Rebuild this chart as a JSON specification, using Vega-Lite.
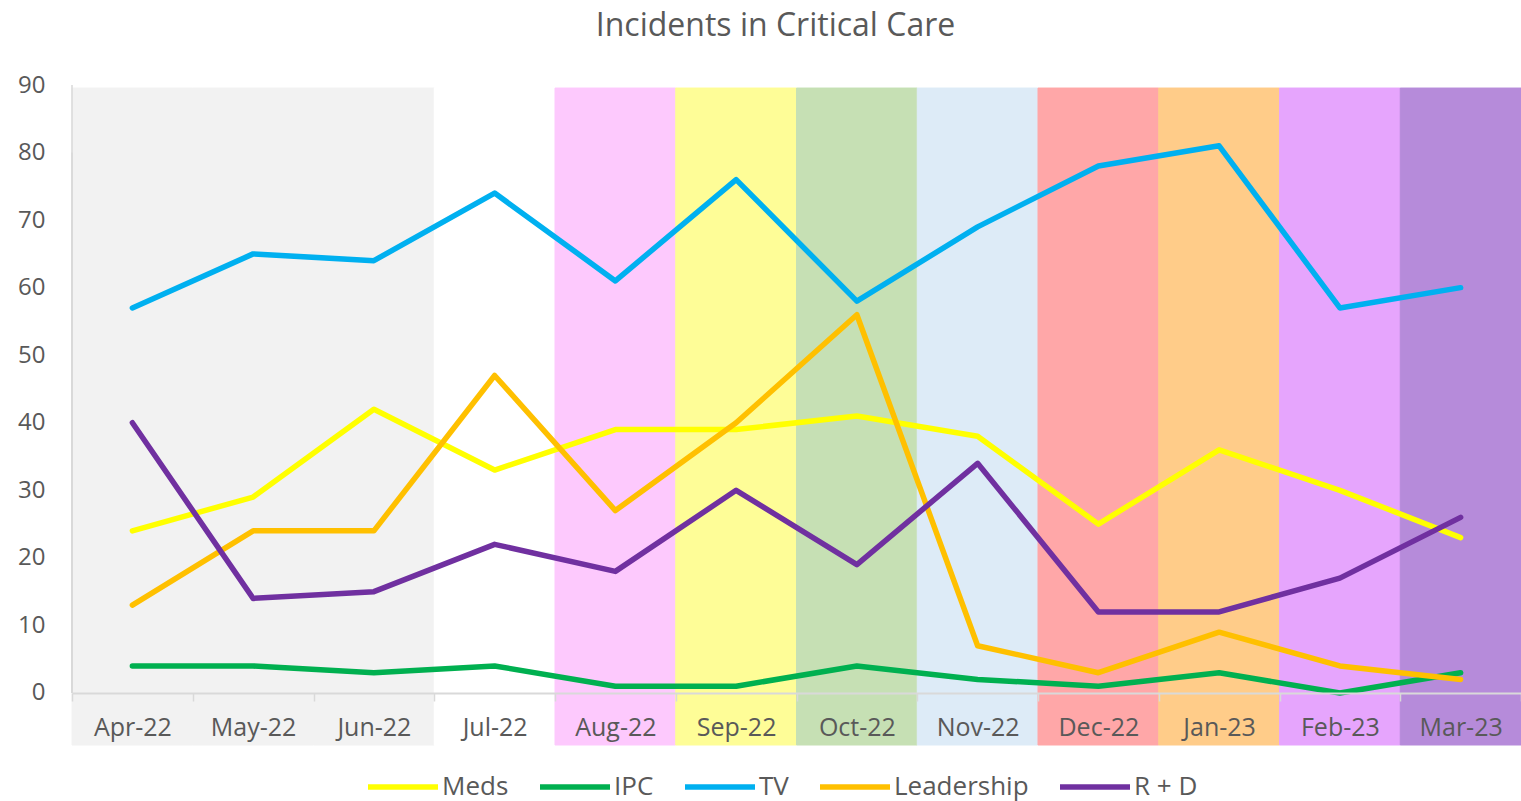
{
  "$schema": "https://vega.github.io/schema/vega-lite/v6.json",
  "width": 1449,
  "height": 660,
  "autosize": {"type": "none"},
  "padding": {"left": 72, "top": 85, "right": 0, "bottom": 56},
  "background": "#ffffff",
  "config": {
    "font": "Open Sans",
    "view": {"stroke": null}
  },
  "title": {
    "text": "Incidents in Critical Care",
    "fontSize": 32,
    "fontWeight": "normal",
    "color": "#595959",
    "anchor": "middle",
    "dx": -21,
    "offset": 30
  },
  "resolve": {"scale": {"stroke": "independent"}},
  "datasets": {
    "bands": [
      {"month": "Apr-22"}, {"month": "May-22"}, {"month": "Jun-22"}, {"month": "Jul-22"},
      {"month": "Aug-22"}, {"month": "Sep-22"}, {"month": "Oct-22"}, {"month": "Nov-22"},
      {"month": "Dec-22"}, {"month": "Jan-23"}, {"month": "Feb-23"}, {"month": "Mar-23"}
    ],
    "grid": [
      {"v": 10}, {"v": 20}, {"v": 30}, {"v": 40}, {"v": 50}, {"v": 60}, {"v": 70}, {"v": 80}, {"v": 90}
    ],
    "vals": [
      {"month": "Apr-22", "series": "Meds", "value": 24},
      {"month": "May-22", "series": "Meds", "value": 29},
      {"month": "Jun-22", "series": "Meds", "value": 42},
      {"month": "Jul-22", "series": "Meds", "value": 33},
      {"month": "Aug-22", "series": "Meds", "value": 39},
      {"month": "Sep-22", "series": "Meds", "value": 39},
      {"month": "Oct-22", "series": "Meds", "value": 41},
      {"month": "Nov-22", "series": "Meds", "value": 38},
      {"month": "Dec-22", "series": "Meds", "value": 25},
      {"month": "Jan-23", "series": "Meds", "value": 36},
      {"month": "Feb-23", "series": "Meds", "value": 30},
      {"month": "Mar-23", "series": "Meds", "value": 23},
      {"month": "Apr-22", "series": "IPC", "value": 4},
      {"month": "May-22", "series": "IPC", "value": 4},
      {"month": "Jun-22", "series": "IPC", "value": 3},
      {"month": "Jul-22", "series": "IPC", "value": 4},
      {"month": "Aug-22", "series": "IPC", "value": 1},
      {"month": "Sep-22", "series": "IPC", "value": 1},
      {"month": "Oct-22", "series": "IPC", "value": 4},
      {"month": "Nov-22", "series": "IPC", "value": 2},
      {"month": "Dec-22", "series": "IPC", "value": 1},
      {"month": "Jan-23", "series": "IPC", "value": 3},
      {"month": "Feb-23", "series": "IPC", "value": 0},
      {"month": "Mar-23", "series": "IPC", "value": 3},
      {"month": "Apr-22", "series": "TV", "value": 57},
      {"month": "May-22", "series": "TV", "value": 65},
      {"month": "Jun-22", "series": "TV", "value": 64},
      {"month": "Jul-22", "series": "TV", "value": 74},
      {"month": "Aug-22", "series": "TV", "value": 61},
      {"month": "Sep-22", "series": "TV", "value": 76},
      {"month": "Oct-22", "series": "TV", "value": 58},
      {"month": "Nov-22", "series": "TV", "value": 69},
      {"month": "Dec-22", "series": "TV", "value": 78},
      {"month": "Jan-23", "series": "TV", "value": 81},
      {"month": "Feb-23", "series": "TV", "value": 57},
      {"month": "Mar-23", "series": "TV", "value": 60},
      {"month": "Apr-22", "series": "Leadership", "value": 13},
      {"month": "May-22", "series": "Leadership", "value": 24},
      {"month": "Jun-22", "series": "Leadership", "value": 24},
      {"month": "Jul-22", "series": "Leadership", "value": 47},
      {"month": "Aug-22", "series": "Leadership", "value": 27},
      {"month": "Sep-22", "series": "Leadership", "value": 40},
      {"month": "Oct-22", "series": "Leadership", "value": 56},
      {"month": "Nov-22", "series": "Leadership", "value": 7},
      {"month": "Dec-22", "series": "Leadership", "value": 3},
      {"month": "Jan-23", "series": "Leadership", "value": 9},
      {"month": "Feb-23", "series": "Leadership", "value": 4},
      {"month": "Mar-23", "series": "Leadership", "value": 2},
      {"month": "Apr-22", "series": "R + D", "value": 40},
      {"month": "May-22", "series": "R + D", "value": 14},
      {"month": "Jun-22", "series": "R + D", "value": 15},
      {"month": "Jul-22", "series": "R + D", "value": 22},
      {"month": "Aug-22", "series": "R + D", "value": 18},
      {"month": "Sep-22", "series": "R + D", "value": 30},
      {"month": "Oct-22", "series": "R + D", "value": 19},
      {"month": "Nov-22", "series": "R + D", "value": 34},
      {"month": "Dec-22", "series": "R + D", "value": 12},
      {"month": "Jan-23", "series": "R + D", "value": 12},
      {"month": "Feb-23", "series": "R + D", "value": 17},
      {"month": "Mar-23", "series": "R + D", "value": 26}
    ]
  },
  "encoding": {
    "x": {
      "field": "month",
      "type": "nominal",
      "scale": {
        "domain": ["Apr-22", "May-22", "Jun-22", "Jul-22", "Aug-22", "Sep-22", "Oct-22", "Nov-22", "Dec-22", "Jan-23", "Feb-23", "Mar-23"],
        "paddingInner": 0,
        "paddingOuter": 0
      },
      "axis": {
        "title": null,
        "orient": "bottom",
        "offset": -52,
        "labelAngle": 0,
        "labelFontSize": 25,
        "labelColor": "#595959",
        "labelPadding": 14,
        "tickBand": "extent",
        "tickSize": 8,
        "tickColor": "#d9d9d9",
        "tickWidth": 1.5,
        "domainColor": "#d9d9d9",
        "domainWidth": 2,
        "grid": false
      }
    }
  },
  "layer": [
    {
      "data": {"name": "bands"},
      "mark": {"type": "rect", "strokeWidth": 1},
      "encoding": {
        "y": {"datum": 89.55, "type": "quantitative", "scale": {"domain": [-7.7, 90], "nice": false, "zero": false},
          "axis": {"values": [0, 10, 20, 30, 40, 50, 60, 70, 80, 90], "title": null, "grid": false, "domain": false, "ticks": false, "labelFontSize": 24, "labelColor": "#595959", "labelPadding": 27}},
        "y2": {"datum": -7.7},
        "fill": {
          "field": "month",
          "type": "nominal",
          "scale": {
            "domain": ["Apr-22", "May-22", "Jun-22", "Jul-22", "Aug-22", "Sep-22", "Oct-22", "Nov-22", "Dec-22", "Jan-23", "Feb-23", "Mar-23"],
            "range": ["#f2f2f2", "#f2f2f2", "#f2f2f2", "#ffffff", "#fdc9fd", "#fefd97", "#c6e0b4", "#ddebf7", "#ffa7a8", "#ffcc89", "#e6a5fd", "#b68bda"]
          },
          "legend": null
        },
        "stroke": {
          "field": "month",
          "type": "nominal",
          "scale": {
            "domain": ["Apr-22", "May-22", "Jun-22", "Jul-22", "Aug-22", "Sep-22", "Oct-22", "Nov-22", "Dec-22", "Jan-23", "Feb-23", "Mar-23"],
            "range": ["#f2f2f2", "#f2f2f2", "#f2f2f2", "#ffffff", "#fdc9fd", "#fefd97", "#c6e0b4", "#ddebf7", "#ffa7a8", "#ffcc89", "#e6a5fd", "#b68bda"]
          },
          "legend": null
        }
      }
    },
    {
      "data": {"name": "grid"},
      "mark": {"type": "rule", "color": "#d9d9d9", "strokeWidth": 1.5},
      "encoding": {
        "y": {"field": "v", "type": "quantitative"}
      }
    },
    {
      "data": {"name": "vals"},
      "mark": {"type": "line", "strokeWidth": 5.5, "strokeJoin": "round", "strokeCap": "round"},
      "encoding": {
        "y": {"field": "value", "type": "quantitative"},
        "stroke": {
          "field": "series",
          "type": "nominal",
          "scale": {
            "domain": ["Meds", "IPC", "TV", "Leadership", "R + D"],
            "range": ["#ffff00", "#00b050", "#00b0f0", "#ffc000", "#7030a0"]
          },
          "legend": {
            "title": null,
            "orient": "none",
            "legendX": 293,
            "legendY": 664,
            "direction": "horizontal",
            "symbolType": "stroke",
            "symbolSize": 4900,
            "symbolStrokeWidth": 5.5,
            "labelFontSize": 26,
            "labelColor": "#595959",
            "labelOffset": 1,
            "columnPadding": 20
          }
        }
      }
    }
  ]
}
